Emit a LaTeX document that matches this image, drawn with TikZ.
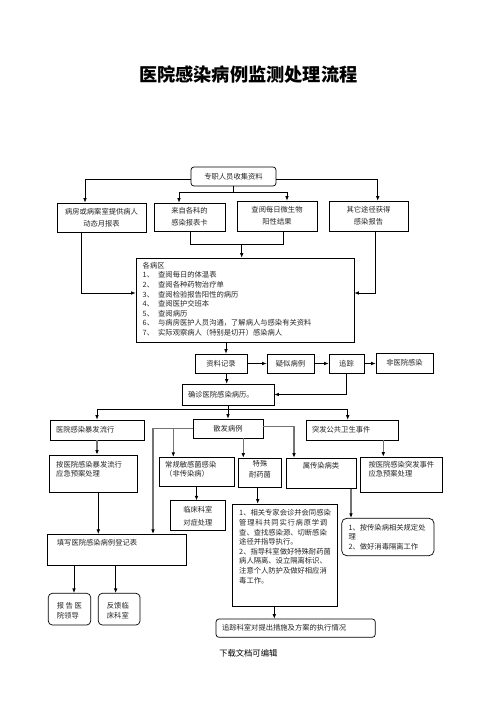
\documentclass[tikz,border=0pt]{standalone}
\usepackage{fontspec}
\newfontfamily\cjk{Noto Sans CJK SC}
\usetikzlibrary{arrows.meta}
\tikzset{
 box/.style={draw=black, line width=0.7pt, inner sep=0pt, font=\cjk\fontsize{7.3}{12.3}\selectfont, text=black!85, align=center},
 rbox/.style={box, rounded corners=3pt},
 txt/.style={inner sep=0pt, font=\cjk\fontsize{7.3}{9.6}\selectfont, text=black!85, align=left},
 arr/.style={line width=0.7pt, -{Latex[length=4.5pt,width=3.6pt]}},
 garr/.style={line width=1.3pt, draw=black!55, -{Latex[length=4.5pt,width=3.6pt,color=black]}},
 ln/.style={line width=0.7pt},
}
\begin{document}
\begin{tikzpicture}[x=1pt,y=-1pt]
\fill[white] (0,0) rectangle (496,702);
\useasboundingbox (0,0) rectangle (496,702);

\node[font=\cjk\bfseries\fontsize{18.2}{20}\selectfont] (title) at (248.3,75) {医院感染病例监测处理流程};

% top row
\node[rbox, minimum width=85pt, minimum height=19pt] (zz) at (233.5,176.5) {专职人员收集资料};
\node[box, minimum width=89pt, minimum height=29pt] (b1) at (101.5,217.5) {病房或病案室提供病人\\动态月报表};
\node[box, minimum width=71pt, minimum height=28pt] (b2) at (189.5,217) {来自各科的\\感染报表卡};
\node[box, minimum width=80pt, minimum height=30pt] (b3) at (277,216) {查阅每日微生物\\阳性结果};
\node[box, minimum width=79pt, minimum height=30pt] (b4) at (368.5,216) {其它途径获得\\感染报告};

% ward box
\node[box, minimum width=218pt, minimum height=84pt] (ward) at (245,300) {};
\node[txt, anchor=north west] (wardt) at (142.5,262) {各病区\\
\makebox[15.5pt][l]{1、}查阅每日的体温表\\
\makebox[15.5pt][l]{2、}查阅各种药物治疗单\\
\makebox[15.5pt][l]{3、}查阅检验报告阳性的病历\\
\makebox[15.5pt][l]{4、}查阅医护交班本\\
\makebox[15.5pt][l]{5、}查阅病历\\
\makebox[15.5pt][l]{6、}与病房医护人员沟通，了解病人与感染有关资料\\
\makebox[15.5pt][l]{7、}实际观察病人（特别是切开）感染病人};

% record row
\node[box, minimum width=52pt, minimum height=19pt] (zl) at (221,363.5) {资料记录};
\node[box, minimum width=47pt, minimum height=19pt] (ys) at (290.5,363.5) {疑似病例};
\node[box, minimum width=35pt, minimum height=19pt] (zz2) at (346.5,363.5) {追踪};
\node[box, minimum width=57pt, minimum height=20pt] (fei) at (404.5,363) {非医院感染};
\node[box, minimum height=21pt, text width=80pt, inner xsep=6pt, align=left] (qz) at (228,394.5) {确诊医院感染病历。};

% three branches
\node[box, minimum height=20pt, text width=82pt, inner xsep=6pt, align=left] (bf) at (97,430) {医院感染暴发流行};
\node[box, minimum width=70pt, minimum height=19pt] (sf) at (228,428.5) {散发病例};
\node[box, minimum height=20pt, text width=80pt, inner xsep=6pt, align=left] (tf) at (352,430) {突发公共卫生事件};

\node[box, minimum width=88pt, minimum height=37.5pt] (bfyj) at (93,473.75) {};
\node[txt, anchor=north west, font=\cjk\fontsize{7.3}{9.4}\selectfont] (bfyjt) at (56,460.8) {按医院感染暴发流行\\应急预案处理};
\node[box, minimum width=82pt, minimum height=35.5pt] (tfyj) at (401,474.75) {};
\node[txt, anchor=north west, font=\cjk\fontsize{7.3}{9.4}\selectfont] (tfyjt) at (368.3,460.8) {按医院感染突发事件\\应急预案处理};
\node[box, minimum width=75pt, minimum height=29.4pt] (cg) at (196.5,472) {};
\node[txt, anchor=north west, font=\cjk\fontsize{7.3}{9.4}\selectfont] (cgt) at (165,460.8) {常规敏感菌感染\\（非传染病）};
\node[box, minimum width=43.4pt, minimum height=29.3pt] (ts) at (260,472.7) {};
\node[txt, align=center, font=\cjk\fontsize{7.3}{11}\selectfont] (tst) at (260,469.5) {特殊\\耐药菌};
\node[box, minimum width=70pt, minimum height=30.3pt] (cr) at (321,473.2) {};
\node[txt] (crt) at (321,466) {属传染病类};

\node[box, minimum width=55.7pt, minimum height=30pt] (lc) at (197.85,515.7) {};
\node[txt, align=center, font=\cjk\fontsize{7.3}{13}\selectfont] (lct) at (197.85,516) {临床科室\\对症处理};

\node[box, minimum width=104.6pt, minimum height=102.7pt] (big) at (285,555.35) {};
\node[txt, anchor=north west] (bigt) at (239,509.5) {1、相关专家会诊并会同感染\\
\makebox[88pt][s]{管\hfill 理\hfill 科\hfill 共\hfill 同\hfill 实\hfill 行\hfill 病\hfill 原\hfill 学\hfill 调}\\
查、查找感染源、切断感染\\
途径并指导执行。\\
2、指导科室做好特殊耐药菌\\
病人隔离、设立隔离标识、\\
注意个人防护及做好相应消\\
毒工作。};

\node[box, rounded corners=5pt, minimum width=92.3pt, minimum height=37.4pt] (rb) at (387.85,537) {};
\node[txt, anchor=north west] (rbt) at (348.3,523.8) {1、按传染病相关规定处\\理\\2、做好消毒隔离工作};

\node[box, minimum width=139.4pt, minimum height=31.4pt] (tx) at (117,550) {};
\node[txt, anchor=north west] (txt1) at (56.7,539) {填写医院感染病例登记表};

\node[box, rounded corners=4pt, minimum width=42.4pt, minimum height=31.7pt] (bg) at (69.5,609.15) {};
\node[txt, anchor=north west, font=\cjk\fontsize{7.3}{10}\selectfont] (bgt) at (56.7,602.5) {\makebox[25pt][s]{报\hfill 告\hfill 医}\\院领导};
\node[box, rounded corners=4pt, minimum width=41.7pt, minimum height=31.7pt] (fk) at (119.15,609.15) {};
\node[txt, anchor=north west, font=\cjk\fontsize{7.3}{10}\selectfont] (fkt) at (106.7,602.5) {反馈临\\床科室};

\node[box, rounded corners=3pt, minimum height=18.3pt, text width=147.3pt, inner xsep=6pt, align=left] (zzks) at (295.65,628.15) {追踪科室对提出措施及方案的执行情况};

\node[font=\cjk\fontsize{8.3}{10}\selectfont] (foot) at (248.3,653.3) {下载文档可编辑};

% connectors
\coordinate (j1) at (233.5,192.7);
\draw[ln] (zz.south) -- (j1);
\draw[arr] (j1) -| ([xshift=-10.5pt]b2.north);
\draw[arr] (j1) -| ([xshift=10pt]b3.north);
\draw[arr] ([yshift=-3pt]zz.west) -| ([xshift=-16.5pt]b1.north);
\draw[arr] ([yshift=-3pt]zz.east) -| ([xshift=9.2pt]b4.north);

\coordinate (j2) at (241.7,244.3);
\draw[ln] ([xshift=1pt]b2.south) |- (j2) -| ([xshift=6pt]b3.south);
\draw[arr] (j2) -- (j2 |- ward.north);
\draw[arr] ([xshift=-20pt]b1.south) |- ([yshift=7pt]ward.west);
\draw[arr] ([xshift=6.5pt]b4.south) |- ([yshift=7pt]ward.east);

\draw[arr] ([xshift=5pt]zl.north |- ward.south) -- ([xshift=5pt]zl.north);
\draw[arr] (zl.east) -- (ys.west);
\draw[arr] (ys.east) -- (zz2.west);
\draw[arr] (zz2.east) -- (fei.west |- zz2.east);
\draw[arr] (zz2.south) |- (qz.east);
\draw[arr] ([xshift=5.7pt]zl.south) -- ([xshift=5.7pt]zl.south |- qz.north);

\coordinate (j4) at (228,409.3);
\draw[ln] (qz.south) -- (j4);
\draw[arr] (j4) -| (bf.north);
\draw[arr] (j4) -- (sf.north);
\draw[arr] (j4) -| ([xshift=-4.3pt]tf.north);

\draw[garr] (bf.south) -- (bf.south |- bfyj.north);
\draw[garr] ([xshift=31.3pt]tf.south) -- ([xshift=31.3pt]tf.south |- tfyj.north);
\draw[garr] (sf.west) -| ([xshift=36pt]tx.north);
\coordinate (j5) at (173.3,428.5);
\draw[garr] (j5) -- (j5 |- cg.north);
\draw[garr] ([xshift=15.3pt]sf.south) -- ([xshift=15.3pt]sf.south |- ts.north);
\draw[garr] ([yshift=1.8pt]sf.east) -| ([xshift=-27pt]cr.north);
\draw[arr] (cg.south) -- (cg.south |- lc.north);
\draw[arr] ([xshift=-2.3pt]ts.south) -- ([xshift=-2.3pt]ts.south |- big.north);
\draw[garr] ([xshift=30pt]cr.south) -- ([xshift=30pt]cr.south |- rb.north);
\draw[arr] ([xshift=5.3pt]bfyj.south) -- ([xshift=5.3pt]bfyj.south |- tx.north);
\draw[arr] ([xshift=4.5pt]bg.north |- tx.south) -- ([xshift=4.5pt]bg.north);
\draw[arr] ([xshift=-3.5pt]fk.north |- tx.south) -- ([xshift=-3.5pt]fk.north);
\draw[arr] ([xshift=-10.7pt]big.south) -- ([xshift=-10.7pt]big.south |- zzks.north);
\end{tikzpicture}
\end{document}
